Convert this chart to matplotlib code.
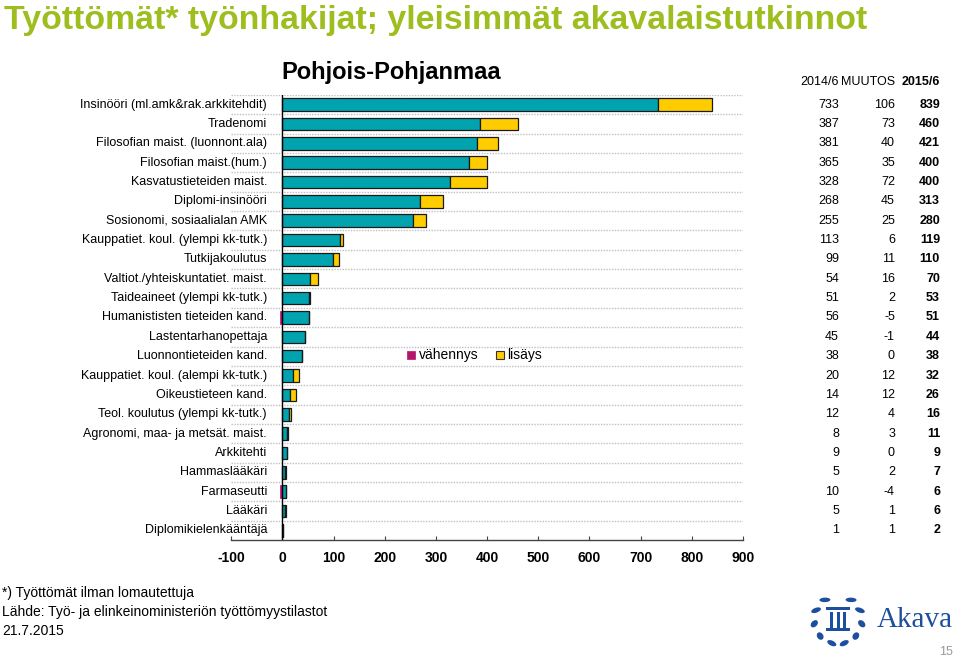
import matplotlib
matplotlib.use("Agg")
import matplotlib.pyplot as plt
from matplotlib import font_manager
from matplotlib.patches import Rectangle, Ellipse
from matplotlib.transforms import blended_transform_factory
import numpy as np

categories = [
    "Insinööri (ml.amk&rak.arkkitehdit)", "Tradenomi", "Filosofian maist. (luonnont.ala)",
    "Filosofian maist.(hum.)", "Kasvatustieteiden maist.", "Diplomi-insinööri",
    "Sosionomi, sosiaalialan AMK", "Kauppatiet. koul. (ylempi kk-tutk.)", "Tutkijakoulutus",
    "Valtiot./yhteiskuntatiet. maist.", "Taideaineet (ylempi kk-tutk.)",
    "Humanististen tieteiden kand.", "Lastentarhanopettaja", "Luonnontieteiden kand.",
    "Kauppatiet. koul. (alempi kk-tutk.)", "Oikeustieteen kand.", "Teol. koulutus (ylempi kk-tutk.)",
    "Agronomi, maa- ja metsät. maist.", "Arkkitehti", "Hammaslääkäri", "Farmaseutti",
    "Lääkäri", "Diplomikielenkääntäjä",
]
v2014 = [733, 387, 381, 365, 328, 268, 255, 113, 99, 54, 51, 56, 45, 38, 20, 14, 12, 8, 9, 5, 10, 5, 1]
muutos = [106, 73, 40, 35, 72, 45, 25, 6, 11, 16, 2, -5, -1, 0, 12, 12, 4, 3, 0, 2, -4, 1, 1]
v2015 = [839, 460, 421, 400, 400, 313, 280, 119, 110, 70, 53, 51, 44, 38, 32, 26, 16, 11, 9, 7, 6, 6, 2]
xticks = list(range(-100, 1000, 100))

avail = {f.name for f in font_manager.fontManager.ttflist}
NARROW = "Liberation Sans Narrow" if "Liberation Sans Narrow" in avail else "Liberation Sans"
REG = "Liberation Sans"

TEAL = "#00A3AE"
YELLOW = "#FFCC00"
MAGENTA = "#B5166B"
GREEN = "#9DBE1E"

W, H = 960, 661
fig = plt.figure(figsize=(W / 100, H / 100), dpi=100)

def fx(px):
    return px / W

def fy(py):
    return 1 - py / H

ax_left, ax_right = 231.3, 743.0
ax_top, ax_bottom = 95.0, 540.0
ax = fig.add_axes([fx(ax_left), fy(ax_bottom), fx(ax_right - ax_left), (ax_bottom - ax_top) / H])

n = len(categories)
y = np.arange(n)
base = np.minimum(v2014, v2015)
inc = np.array([m if m > 0 else 0 for m in muutos])
dec = np.array([m if m < 0 else 0 for m in muutos])
bh = 0.65
ax.barh(y, base, height=bh, color=TEAL, edgecolor="#1a1a1a", linewidth=0.9, zorder=3)
ax.barh(y, inc, left=base, height=bh, color=YELLOW, edgecolor="#1a1a1a", linewidth=0.9, zorder=3)
ax.barh(y, dec, height=bh, color=MAGENTA, edgecolor=MAGENTA, linewidth=0.5, zorder=3)

ax.set_xlim(-100, 900)
ax.set_ylim(n - 0.5, -0.5)
for g in np.arange(-0.5, n - 1, 1.0):
    ax.axhline(g, color="#c0c0c0", linestyle=(0, (1, 1)), linewidth=1.0, zorder=1)
ax.axvline(0, color="black", linewidth=1.0, zorder=4)

for s in ["top", "right", "left"]:
    ax.spines[s].set_visible(False)
ax.spines["bottom"].set_color("#444444")
ax.spines["bottom"].set_linewidth(1.0)
ax.set_yticks([])
ax.set_xticks(xticks)
ax.set_xticklabels([str(t) for t in xticks], fontfamily=REG, fontweight="bold", fontsize=10)
ax.tick_params(axis="x", direction="in", length=3, pad=8, color="#444444")

tr = blended_transform_factory(fig.transFigure, ax.transData)
for i, c in enumerate(categories):
    fig.text(fx(267), i, c, transform=tr, ha="right", va="center",
             fontfamily=NARROW, fontsize=9.0)
    fig.text(fx(839), i, str(v2014[i]), transform=tr, ha="right", va="center",
             fontfamily=NARROW, fontsize=9)
    fig.text(fx(895), i, str(muutos[i]), transform=tr, ha="right", va="center",
             fontfamily=NARROW, fontsize=9)
    fig.text(fx(940), i, str(v2015[i]), transform=tr, ha="right", va="center",
             fontfamily=NARROW, fontsize=9, fontweight="bold")

fig.text(fx(839), fy(82), "2014/6", ha="right", va="center", fontfamily=NARROW, fontsize=9)
fig.text(fx(895), fy(82), "MUUTOS", ha="right", va="center", fontfamily=NARROW, fontsize=9)
fig.text(fx(940), fy(82), "2015/6", ha="right", va="center", fontfamily=NARROW, fontsize=9,
         fontweight="bold")

# titles
fig.text(fx(4), fy(20), "Työttömät* työnhakijat; yleisimmät akavalaistutkinnot",
         ha="left", va="center", fontfamily=NARROW, fontweight="bold", fontsize=24.4, color=GREEN)
fig.text(fx(391), fy(72), "Pohjois-Pohjanmaa", ha="center", va="center",
         fontfamily=NARROW, fontweight="bold", fontsize=17)

# legend
sq = 8
fig.patches.append(Rectangle((fx(407), fy(359)), sq / W, sq / H, transform=fig.transFigure,
                             facecolor=MAGENTA, edgecolor=MAGENTA, lw=0.5))
fig.text(fx(419), fy(355), "vähennys", ha="left", va="center", fontfamily=REG, fontsize=10)
fig.patches.append(Rectangle((fx(496), fy(359)), sq / W, sq / H, transform=fig.transFigure,
                             facecolor=YELLOW, edgecolor="#333333", lw=0.8))
fig.text(fx(507), fy(355), "lisäys", ha="left", va="center", fontfamily=REG, fontsize=10)

# footer
fig.text(fx(2), fy(593), "*) Työttömät ilman lomautettuja", ha="left", va="center",
         fontfamily=REG, fontsize=10)
fig.text(fx(2), fy(612), "Lähde: Työ- ja elinkeinoministeriön työttömyystilastot", ha="left",
         va="center", fontfamily=REG, fontsize=10)
fig.text(fx(2), fy(631), "21.7.2015", ha="left", va="center", fontfamily=REG, fontsize=10)

# logo
BLUE = "#1E4F9E"
fig.text(fx(877), fy(620), "Akava", ha="left", va="center", fontfamily="Liberation Serif",
         fontsize=21, color=BLUE)
cx, cy, rr = 838, 620, 24
for k in range(5):
    a = np.deg2rad(-75 + k * 33)
    for side in (-1, 1):
        ex = cx + side * rr * np.cos(a)
        ey = cy - rr * np.sin(a)
        tang = np.rad2deg(a) + 90
        ang = tang if side > 0 else 180 - tang
        fig.patches.append(Ellipse((fx(ex), fy(ey)), 11 / W, 4.5 / H,
                                   angle=ang + side * 30, transform=fig.transFigure,
                                   facecolor=BLUE, edgecolor="none"))
fig.patches.append(Rectangle((fx(826), fy(610)), 24 / W, 3 / H, transform=fig.transFigure,
                             facecolor=BLUE, edgecolor="none"))
for dx in (830, 836.5, 843):
    fig.patches.append(Rectangle((fx(dx), fy(628)), 3 / W, 16 / H, transform=fig.transFigure,
                                 facecolor=BLUE, edgecolor="none"))
fig.patches.append(Rectangle((fx(826), fy(631)), 24 / W, 3 / H, transform=fig.transFigure,
                             facecolor=BLUE, edgecolor="none"))
fig.text(fx(953), fy(652), "15", ha="right", va="center", fontfamily=REG, fontsize=9,
         color="#999999")

fig.savefig("out.png", dpi=100)
